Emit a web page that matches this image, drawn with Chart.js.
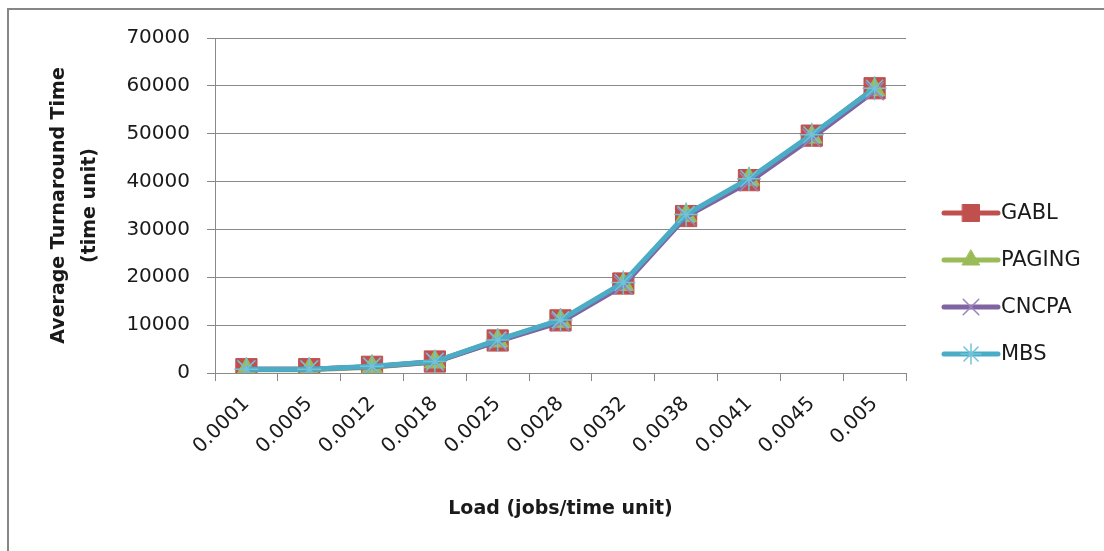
<!DOCTYPE html>
<html>
<head>
<meta charset="utf-8">
<script src="https://cdn.jsdelivr.net/npm/chart.js@4/dist/chart.umd.min.js"></script>
<style>
  html, body { margin: 0; padding: 0; background: #ffffff; }
  #wrap { position: relative; width: 1104px; height: 551px; overflow: hidden; }
  #frame { position: absolute; left: 7px; top: 8px; width: 1200px; height: 700px;
           border-left: 2px solid #868686; border-top: 2px solid #868686; }
  canvas { position: absolute; left: 0; top: 0; }
</style>
</head>
<body>
<div id="wrap">
  <div id="frame"></div>
  <canvas id="chart" width="1104" height="551"></canvas>
</div>
<script>
// Load levels (jobs per time unit)
const loads = ['0.0001', '0.0005', '0.0012', '0.0018', '0.0025', '0.0028',
               '0.0032', '0.0038', '0.0041', '0.0045', '0.005'];

// Average turnaround time per allocation strategy
const gabl   = [800, 800, 1300, 2400, 6800, 11000, 18700, 32800, 40300, 49600, 59500];
const paging = [700, 700, 1200, 2300, 6700, 10800, 18500, 32900, 40500, 49300, 59200];
const cncpa  = [800, 800, 1300, 2300, 6600, 10600, 18300, 32700, 39900, 49100, 58900];
const mbs    = [800, 800, 1400, 2400, 6900, 11100, 18900, 33100, 40600, 49800, 59500];

const yTicks = [0, 10000, 20000, 30000, 40000, 50000, 60000, 70000];

const seriesNames = ['GABL', 'PAGING', 'CNCPA', 'MBS'];
const seriesData = [gabl, paging, cncpa, mbs];
const seriesStyle = [
  { color: '#C0504D', point: 'rect',     radius: 15, legendRadius: 12, pointColor: '#C0504D', bw: 1 },
  { color: '#9BBB59', point: 'triangle', radius: 12, legendRadius: 10, pointColor: '#9BBB59', bw: 1 },
  { color: '#8064A2', point: 'crossRot', radius: 13, legendRadius: 11, pointColor: '#9A86BE', bw: 1.5 },
  { color: '#4BACC6', point: 'star',     radius: 12, legendRadius: 10, pointColor: '#72C2D8', bw: 1.5 }
];

Chart.defaults.font.family = "'DejaVu Sans', sans-serif";
Chart.defaults.color = '#1a1a1a';

const datasets = seriesNames.map((name, i) => {
  const s = seriesStyle[i];
  return {
    label: name,
    data: seriesData[i],
    borderColor: s.color,
    backgroundColor: s.pointColor,
    borderWidth: 5,
    tension: 0,
    pointStyle: s.point,
    pointRadius: s.radius,
    pointBackgroundColor: s.pointColor,
    pointBorderColor: s.pointColor,
    pointBorderWidth: s.bw,
    // later series are painted over earlier ones
    order: seriesNames.length - i
  };
});

// Legend on the right: a short line with the series marker and its name
const sideLegend = {
  id: 'sideLegend',
  afterDraw(chart) {
    const ctx = chart.ctx;
    const x0 = 944, x1 = 998, xm = 971, top = 213, gap = 47;
    ctx.save();
    seriesNames.forEach((name, i) => {
      const s = seriesStyle[i];
      const y = top + i * gap;
      ctx.strokeStyle = s.color;
      ctx.lineWidth = 5;
      ctx.lineCap = 'round';
      ctx.beginPath();
      ctx.moveTo(x0, y);
      ctx.lineTo(x1, y);
      ctx.stroke();
      ctx.fillStyle = s.pointColor;
      ctx.strokeStyle = s.pointColor;
      ctx.lineWidth = s.bw;
      Chart.helpers.drawPoint(ctx, {
        pointStyle: s.point, radius: s.legendRadius, rotation: 0, borderWidth: s.bw
      }, xm, y);
      ctx.fillStyle = '#1a1a1a';
      ctx.font = "21px 'DejaVu Sans', sans-serif";
      ctx.textAlign = 'left';
      ctx.textBaseline = 'middle';
      ctx.fillText(name, 1001, y + 1);
    });
    ctx.restore();
  }
};

new Chart(document.getElementById('chart'), {
  type: 'line',
  data: { labels: loads, datasets },
  plugins: [sideLegend],
  options: {
    responsive: false,
    devicePixelRatio: 1,
    animation: false,
    layout: { padding: { top: 38, right: 198, bottom: 0, left: 0 } },
    plugins: { legend: { display: false }, tooltip: { enabled: false } },
    scales: {
      x: {
        type: 'category',
        offset: true,
        afterFit(scale) { scale.height = 178; },
        grid: { display: true, drawOnChartArea: false, drawTicks: true, tickLength: 8,
                offset: true, color: '#898989', lineWidth: 1 },
        border: { display: true, color: '#898989', width: 1 },
        ticks: { autoSkip: false, minRotation: 45, maxRotation: 45, padding: 11,
                 font: { size: 20 }, color: '#1a1a1a' },
        title: { display: true, text: 'Load (jobs/time unit)', color: '#1a1a1a',
                 font: { size: 19, weight: 'bold' }, padding: { top: 0, bottom: 31 } }
      },
      y: {
        min: 0,
        max: 70000,
        afterFit(scale) { scale.width = 215; },
        afterBuildTicks(scale) { scale.ticks = yTicks.map(v => ({ value: v })); },
        grid: { color: '#898989', lineWidth: 1, drawTicks: true, tickLength: 8 },
        border: { display: true, color: '#898989', width: 1 },
        ticks: { padding: 17, font: { size: 20 }, color: '#1a1a1a',
                 callback: (v) => String(v) },
        title: { display: true, text: ['Average Turnaround Time', '(time unit)'],
                 color: '#1a1a1a', font: { size: 19, weight: 'bold', lineHeight: 1.6 },
                 padding: { top: 44, bottom: 0 } }
      }
    }
  }
});
</script>
</body>
</html>
